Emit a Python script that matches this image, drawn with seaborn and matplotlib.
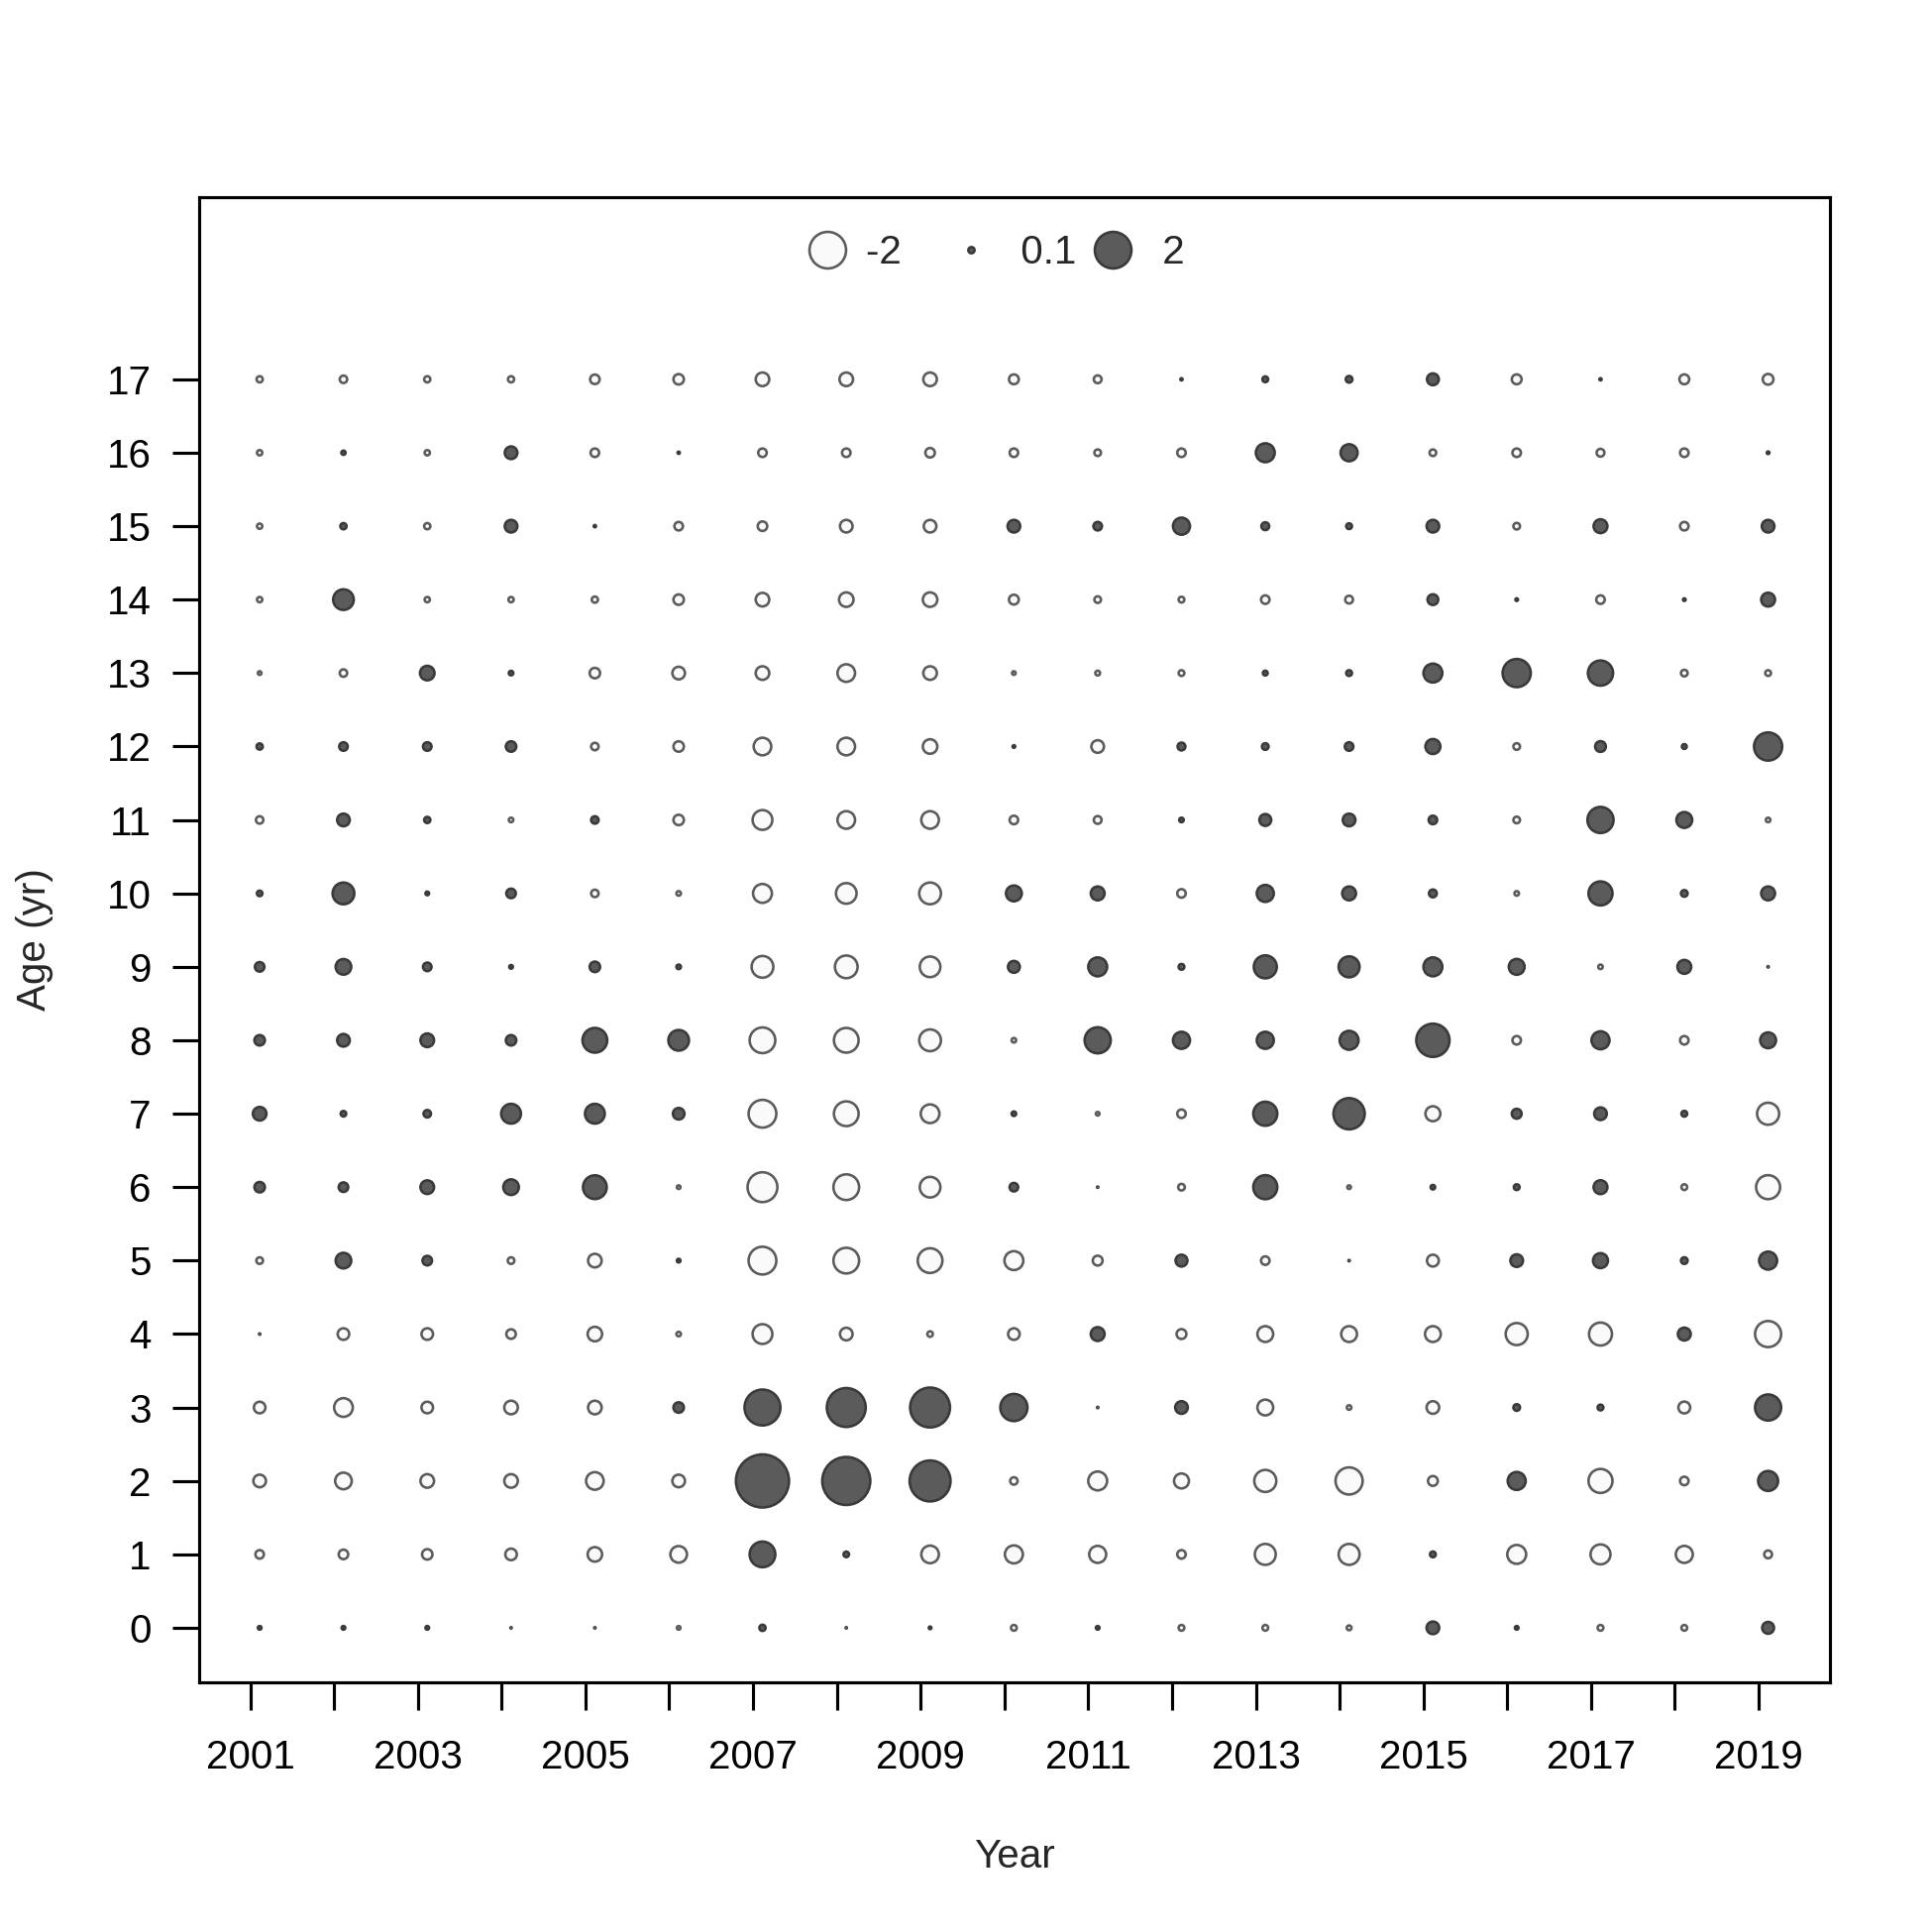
import numpy as np
import pandas as pd
import matplotlib
matplotlib.use("Agg")
import matplotlib.pyplot as plt
import seaborn as sns
from matplotlib.lines import Line2D

sns.set_style("white")
plt.rcParams['font.family'] = ['Liberation Sans', 'DejaVu Sans']

years = list(range(2001, 2020))
ages = list(range(0, 18))
x_labels = [str(y) if (y - 2001) % 2 == 0 else "" for y in years]

# Pearson residuals by age (years 2001..2019)
age0  = [0.05, 0.05, 0.05, 0.02, 0.02, -0.05, 0.1, 0.02, 0.035, -0.09, 0.05, -0.09, -0.09, -0.07, 0.3, 0.05, -0.09, -0.09, 0.27]
age1  = [-0.16, -0.19, -0.22, -0.26, -0.38, -0.48, 1.04, 0.085, -0.53, -0.55, -0.5, -0.16, -0.72, -0.72, 0.09, -0.6, -0.66, -0.5, -0.14]
age2  = [-0.3, -0.48, -0.34, -0.34, -0.53, -0.3, 4.04, 3.34, 2.47, -0.13, -0.6, -0.4, -0.79, -1.15, -0.2, 0.55, -0.92, -0.16, 0.66]
age3  = [-0.26, -0.59, -0.26, -0.34, -0.34, 0.22, 1.93, 2.24, 2.35, 1.15, 0.02, 0.3, -0.44, -0.065, -0.3, 0.11, 0.09, -0.27, 1.07]
age4  = [0.02, -0.26, -0.26, -0.19, -0.38, -0.065, -0.65, -0.3, -0.085, -0.26, 0.35, -0.2, -0.44, -0.44, -0.44, -0.79, -0.85, 0.31, -1.07]
age5  = [-0.11, 0.43, 0.19, -0.11, -0.34, 0.05, -1.2, -1.04, -0.97, -0.6, -0.2, 0.27, -0.16, 0.02, -0.27, 0.3, 0.4, 0.11, 0.55]
age6  = [0.22, 0.19, 0.34, 0.43, 0.9, -0.05, -1.37, -1.04, -0.7, 0.16, 0.02, -0.11, 0.92, -0.05, 0.065, 0.09, 0.35, -0.09, -0.92]
age7  = [0.34, 0.085, 0.13, 0.65, 0.65, 0.26, -1.2, -0.97, -0.59, 0.065, -0.05, -0.16, 0.92, 1.49, -0.4, 0.2, 0.3, 0.09, -0.79]
age8  = [0.22, 0.3, 0.34, 0.22, 0.97, 0.7, -1.04, -0.97, -0.77, -0.065, 1.07, 0.5, 0.5, 0.6, 1.67, -0.16, 0.55, -0.16, 0.44]
age9  = [0.19, 0.43, 0.16, 0.05, 0.22, 0.065, -0.77, -0.83, -0.7, 0.27, 0.6, 0.09, 0.85, 0.72, 0.6, 0.44, -0.065, 0.35, 0.02]
age10 = [0.085, 0.77, 0.05, 0.19, -0.13, -0.065, -0.6, -0.7, -0.77, 0.44, 0.35, -0.16, 0.5, 0.35, 0.14, -0.065, 0.92, 0.11, 0.35]
age11 = [-0.13, 0.3, 0.1, -0.065, 0.13, -0.22, -0.65, -0.53, -0.53, -0.16, -0.14, 0.065, 0.27, 0.3, 0.16, -0.11, 1.07, 0.44, -0.065]
age12 = [0.1, 0.16, 0.16, 0.22, -0.13, -0.22, -0.53, -0.53, -0.38, 0.035, -0.3, 0.14, 0.11, 0.16, 0.4, -0.11, 0.23, 0.07, 1.23]
age13 = [-0.05, -0.13, 0.38, 0.065, -0.22, -0.3, -0.34, -0.53, -0.34, -0.05, -0.07, -0.09, 0.07, 0.09, 0.6, 1.23, 1.0, -0.11, -0.09]
age14 = [-0.08, 0.7, -0.08, -0.08, -0.1, -0.22, -0.34, -0.38, -0.38, -0.2, -0.11, -0.09, -0.16, -0.14, 0.23, 0.035, -0.16, 0.035, 0.35]
age15 = [-0.08, 0.1, -0.1, 0.3, 0.03, -0.16, -0.19, -0.3, -0.3, 0.3, 0.16, 0.5, 0.14, 0.09, 0.3, -0.11, 0.35, -0.16, 0.3]
age16 = [-0.08, 0.06, -0.08, 0.3, -0.16, 0.03, -0.16, -0.16, -0.19, -0.16, -0.11, -0.16, 0.6, 0.5, -0.11, -0.16, -0.14, -0.16, 0.035]
age17 = [-0.1, -0.13, -0.1, -0.1, -0.19, -0.22, -0.34, -0.34, -0.34, -0.2, -0.14, 0.03, 0.09, 0.11, 0.27, -0.2, 0.03, -0.2, -0.23]

legend_values = [-2, 0.1, 2]
legend_labels = ["-2", "0.1", "2"]

resid_rows = [age0, age1, age2, age3, age4, age5, age6, age7, age8, age9,
              age10, age11, age12, age13, age14, age15, age16, age17]

# --- styling constants ---
PX = 72.0 / 300.0          # one output pixel in points
D2 = 39.5                  # outer diameter (px) of a bubble with |z| = 2
EDGE_PX = 2.6
X_OFFSET = 0.113           # bubbles sit slightly right of the year tick
FILL_POS, EDGE_POS = "#5b5b5b", "#3a3a3a"
FILL_NEG, EDGE_NEG = "#fafafa", "#5c5c5c"
FS = 9.7


def diam_pt(z):
    d_outer = D2 * np.sqrt(np.abs(z) / 2.0)
    return np.maximum(d_outer - EDGE_PX, 1.2) * PX


rows = []
for age, vals in zip(ages, resid_rows):
    for yr, v in zip(years, vals):
        rows.append({"Year": yr + X_OFFSET, "Age": age, "resid": v})
df = pd.DataFrame(rows)
df["area"] = diam_pt(df["resid"].to_numpy()) ** 2
df["sign"] = np.where(df["resid"] >= 0, "pos", "neg")

fig = plt.figure(figsize=(6.5, 6.5), dpi=300)
ax = fig.add_axes([201 / 1950, 1 - 1698 / 1950, (1847 - 201) / 1950, (1698 - 199) / 1950])

smin, smax = df["area"].min(), df["area"].max()
for sign, fc, ec in [("neg", FILL_NEG, EDGE_NEG), ("pos", FILL_POS, EDGE_POS)]:
    sub = df[df["sign"] == sign]
    sns.scatterplot(data=sub, x="Year", y="Age", size="area", sizes=(smin, smax),
                    size_norm=(smin, smax), color=fc, edgecolor=ec,
                    linewidth=EDGE_PX * PX, legend=False, ax=ax, zorder=3)

ax.set_xlim(2000.391, 2019.851)
ax.set_ylim(-0.742, 19.48)
ax.set_xticks(years)
ax.set_xticklabels(x_labels)
ax.set_yticks(ages)
ax.set_yticklabels([str(a) for a in ages])
ax.tick_params(axis="both", which="both", direction="out", length=6.6, width=0.75,
               colors="black", labelsize=FS, left=True, bottom=True)
ax.tick_params(axis="x", pad=7)
ax.tick_params(axis="y", pad=5)
for sp in ax.spines.values():
    sp.set_visible(True)
    sp.set_color("black")
    sp.set_linewidth(0.75)
ax.grid(False)
ax.set_xlabel("Year", fontsize=FS, labelpad=15)
ax.set_ylabel("Age (yr)", fontsize=FS, labelpad=13)

handles = []
for v in legend_values:
    fc, ec = (FILL_POS, EDGE_POS) if v >= 0 else (FILL_NEG, EDGE_NEG)
    handles.append(Line2D([], [], linestyle="none", marker="o",
                          markersize=float(diam_pt(v)), markerfacecolor=fc,
                          markeredgecolor=ec, markeredgewidth=EDGE_PX * PX))
# R's legend gives every column the width of the widest label
shown_labels = [legend_labels[0] + "   ", " " + legend_labels[1], " " + legend_labels[2]]
ax.legend(handles, shown_labels, loc="center", bbox_to_anchor=(0.4875, 0.9625),
          ncol=3, frameon=False, fontsize=FS, handlelength=1.2,
          handletextpad=0.36, columnspacing=0.31)

fig.savefig("out.png", dpi=300, facecolor="white")
